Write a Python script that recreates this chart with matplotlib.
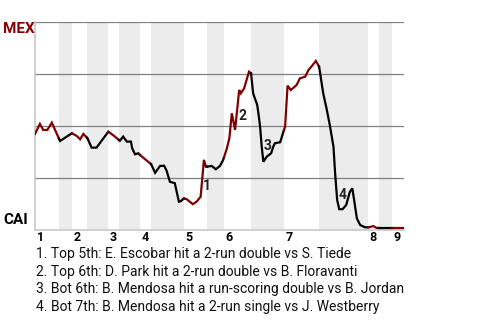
import matplotlib
matplotlib.use("Agg")
import matplotlib.pyplot as plt
import matplotlib.transforms as mtransforms
import numpy as np

plt.rcParams['font.family'] = ['Roboto', 'DejaVu Sans']

# game progress (plays) and MEX win probability (%)
play = [0, 1.2, 2.0, 3.0, 4.1, 6.1, 9.0, 10.2, 11.0, 11.8, 12.8, 13.8, 15.0, 17.9,
        19.5, 20.7, 21.5, 22.4, 23.4, 23.7, 24.4, 25.2, 25.6, 26.8, 28.3, 29.3,
        30.5, 31.5, 32.1, 32.9, 34.1, 35.1, 35.6, 36.3, 37.0, 38.5, 39.4, 40.4,
        41.2, 41.7, 43.1, 44.1, 45.1, 45.9, 46.8, 47.4, 48.0, 48.8, 49.8, 50.2,
        51.0, 51.6, 52.2, 52.7, 53.2, 54.2, 54.6, 54.9, 55.3, 55.7, 56.5, 57.6,
        58.1, 58.5, 59.8, 60.6, 61.0, 61.6, 62.4, 63.8, 64.6, 65.9, 66.7, 67.6,
        68.5, 69.3, 70.3, 71.1, 71.9, 72.8, 73.2, 73.7, 74.2, 75.0, 75.9, 76.8,
        77.4, 77.9, 78.5, 79.3, 80.5, 81.5, 82.5, 83.3, 87.1, 90.0]
mex_wp = [46.2, 51.0, 48.1, 48.1, 51.6, 42.8, 46.5, 45.2, 43.6, 46.2, 44.1, 39.6,
          39.6, 47.3, 44.9, 42.9, 44.9, 42.5, 42.5, 39.3, 36.4, 36.9, 36.1, 34.1,
          31.7, 27.5, 30.8, 30.9, 28.5, 23.2, 22.5, 13.6, 13.9, 15.2, 14.8, 12.4,
          13.6, 16.0, 33.7, 30.4, 30.8, 29.2, 30.8, 33.7, 39.3, 44.1, 56.1, 48.1,
          67.3, 65.7, 68.1, 72.1, 76.1, 75.3, 65.7, 60.1, 54.5, 49.7, 40.0, 32.8,
          35.2, 36.9, 40.0, 41.7, 42.2, 47.3, 49.7, 69.4, 67.3, 69.7, 72.9, 73.7,
          76.9, 79.0, 81.3, 78.5, 65.7, 58.5, 50.5, 40.0, 27.3, 14.4, 10.0, 10.0,
          12.0, 18.4, 20.0, 13.6, 5.6, 2.4, 1.3, 1.3, 1.9, 1.0, 1.0, 1.0]

# start of each half inning (top 1, bot 1, top 2, ...), plus end of game
half_starts = [0, 5.85, 9.02, 12.68, 17.80, 20.49, 25.61, 28.29, 36.34, 41.95,
               46.10, 52.68, 60.73, 69.27, 81.22, 83.90, 87.07, 90.0]

notes = ["1. Top 5th: E. Escobar hit a 2-run double vs S. Tiede",
         "2. Top 6th: D. Park hit a 2-run double vs B. Floravanti",
         "3. Bot 6th: B. Mendosa hit a run-scoring double vs B. Jordan",
         "4. Bot 7th: B. Mendosa hit a 2-run single vs J. Westberry"]
note_x = [41.95, 50.7, 56.8, 74.9]
note_y = [21.2, 54.8, 40.4, 16.8]

red = '#800000'

fig = plt.figure(figsize=(4.8, 3.2), dpi=100)
ax = fig.add_axes([35/480, 1 - 230/320, 369/480, 208/320])

x = np.array(play)
y = np.array(mex_wp)

for i in range(len(half_starts) - 1):
    a, b = half_starts[i], half_starts[i + 1]
    if i % 2 == 1:
        ax.axvspan(a, b, color='#ececec', lw=0, zorder=0)
    inside = x[(x > a) & (x < b)]
    xs = np.concatenate([[a], inside, [b]])
    ys = np.interp(xs, x, y)
    ax.plot(xs, ys, color=red if i % 2 == 0 else 'black', lw=1.6,
            solid_joinstyle='miter', zorder=3)

for g in [25, 50, 75, 100]:
    ax.axhline(g, color='#808080', lw=0.9, zorder=1)

ax.set_xlim(0, 90)
ax.set_ylim(0, 100)
ax.set_xticks([])
ax.set_yticks([])
for s in ['top', 'right']:
    ax.spines[s].set_visible(False)
for s in ['left', 'bottom']:
    ax.spines[s].set_color('#c8c8c8')
    ax.spines[s].set_linewidth(1.2)

trans = mtransforms.blended_transform_factory(ax.transData, ax.transAxes)
for k in range(9):
    ax.text(half_starts[2 * k] + 0.4, -0.035, str(k + 1), transform=trans,
            ha='left', va='center', fontsize=9, fontweight='bold')

for k in range(4):
    ax.text(note_x[k], note_y[k], str(k + 1), ha='center', va='center',
            fontsize=10, fontweight='bold', color='#222222', zorder=4)

fig.text(3/480, 1 - 29/320, 'MEX', color='#8B0000', fontsize=11,
         fontweight='bold', ha='left', va='center')
fig.text(3/480, 1 - 220.5/320, 'CAI', color='black', fontsize=11,
         fontweight='bold', ha='left', va='center')

for k, line in enumerate(notes):
    fig.text(36/480, 1 - (254 + 17.6 * k)/320, line, fontsize=10,
             ha='left', va='center', color='#111111')

fig.savefig('out.png', dpi=100)
